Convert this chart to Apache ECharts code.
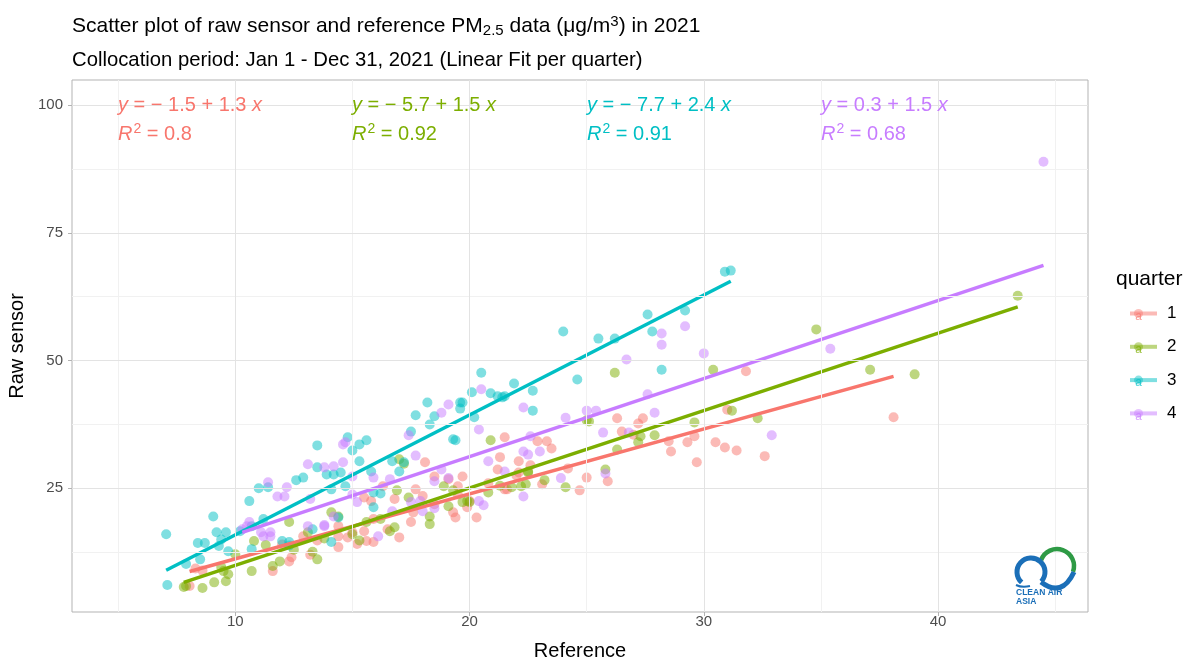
<!DOCTYPE html>
<html>
<head>
<meta charset="utf-8">
<script src="https://cdn.jsdelivr.net/npm/echarts@6/dist/echarts.min.js"></script>
<style>html,body{margin:0;padding:0;background:#fff;}#c{width:1190px;height:658px;}</style>
</head>
<body>
<div id="c"></div>
<script>
// ---- data (Reference, Raw sensor) per quarter ----
const q1 = [[8.05,5.9],[8.6,8.9],[8.3,9.3],[11.6,8.8],[12.3,10.7],[12.4,11.5],[12.9,15.6],[13.5,14.8],[14.4,13.5],[14.4,15.6],[14.4,17.6],[14.8,15.4],[15.0,16.4],[15.2,14.1],[15.5,16.6],[15.6,14.7],[15.9,14.5],[15.5,23.2],[15.8,22.5],[16.3,25.4],[15.9,19.0],[16.8,22.9],[17.0,15.4],[17.5,18.4],[17.6,20.3],[17.7,24.8],[18.1,30.1],[18.5,27.3],[18.5,21.9],[19.1,26.8],[19.3,20.3],[19.4,19.3],[19.7,27.3],[19.5,25.4],[19.5,23.8],[19.9,21.3],[20.0,22.5],[20.3,19.3],[21.3,31.1],[21.5,35.0],[21.2,28.7],[21.6,24.8],[22.1,30.3],[22.1,28.1],[22.0,27.5],[22.9,34.2],[23.3,34.2],[23.5,32.8],[24.2,28.9],[25.0,27.1],[24.7,24.6],[25.9,26.4],[26.3,38.7],[26.5,36.1],[27.2,37.7],[27.4,38.7],[27.0,35.5],[28.5,34.2],[28.6,32.2],[29.3,34.0],[29.6,35.2],[29.7,30.1],[30.5,34.0],[30.9,33.0],[31.4,32.4],[31.8,47.9],[31.0,40.4],[23.1,25.8],[21.5,24.8],[32.6,31.3],[38.1,38.9],[12.0,14.0],[13.2,12.0],[16.5,17.0],[18.0,23.5],[20.8,26.0],[22.6,29.5]];
const q2 = [[7.8,5.7],[7.9,5.9],[8.6,5.5],[9.1,6.6],[9.6,6.8],[9.5,8.8],[9.4,9.6],[9.7,8.2],[10.0,12.1],[10.7,8.8],[10.8,14.7],[11.3,13.9],[11.6,9.8],[11.9,10.7],[12.3,18.4],[13.1,16.4],[13.3,12.6],[13.5,11.1],[14.1,20.3],[14.4,19.5],[15.0,16.0],[15.6,18.4],[16.2,19.0],[16.6,16.6],[16.8,17.4],[16.9,24.6],[17.0,30.7],[17.4,23.2],[18.3,19.5],[18.3,18.0],[18.9,25.4],[19.1,21.5],[19.7,22.3],[19.9,22.5],[20.0,22.3],[20.9,34.4],[20.8,24.2],[21.8,25.2],[22.2,25.4],[22.5,28.3],[22.4,25.8],[22.5,28.1],[23.2,26.6],[24.1,25.2],[25.0,38.3],[25.1,38.1],[25.8,28.7],[26.3,32.6],[26.2,47.6],[27.2,34.0],[27.3,35.2],[27.9,35.4],[29.6,37.9],[30.4,48.2],[31.2,40.2],[32.3,38.7],[34.8,56.1],[37.1,48.2],[39.0,47.3],[43.4,62.7],[15.3,14.8],[17.2,29.8],[13.8,15.2],[12.5,13.0],[19.3,24.6],[21.3,25.5]];
const q3 = [[7.05,16.0],[7.1,6.1],[7.9,10.2],[8.4,14.3],[8.7,14.3],[9.06,19.5],[9.2,16.4],[9.6,16.4],[9.4,15.0],[9.3,13.7],[9.7,12.7],[8.5,11.1],[10.2,16.6],[10.6,22.5],[10.7,13.1],[12.0,14.7],[12.3,14.5],[13.3,17.0],[14.1,14.5],[14.4,19.3],[10.7,17.6],[11.0,25.0],[11.4,25.2],[12.6,26.6],[12.9,27.1],[13.5,29.1],[13.5,33.4],[13.9,27.7],[14.1,24.8],[14.8,35.0],[15.3,33.6],[15.6,34.4],[15.0,32.4],[15.3,30.3],[14.2,27.7],[14.5,28.1],[14.7,25.4],[15.8,28.3],[15.9,24.2],[15.9,21.3],[16.7,30.3],[17.0,28.3],[17.2,30.1],[17.5,36.1],[17.7,39.3],[18.2,41.8],[18.3,37.5],[18.5,39.1],[19.3,34.6],[19.4,34.4],[19.6,41.8],[19.7,41.8],[19.6,40.6],[20.1,43.8],[20.2,38.9],[20.9,43.6],[21.2,43.0],[21.5,43.0],[21.9,45.5],[22.7,44.1],[20.5,47.6],[21.4,42.8],[22.7,40.2],[24.0,55.7],[24.6,46.3],[25.5,54.3],[26.2,54.3],[27.6,59.0],[27.8,55.7],[28.2,48.2],[29.2,59.8],[30.9,67.4],[31.15,67.6],[12.3,13.8],[11.2,19.0],[16.2,24.0]];
const q4 = [[10.3,17.0],[10.5,17.6],[10.6,18.4],[11.1,16.4],[11.2,15.6],[11.5,16.4],[11.5,15.6],[11.4,26.2],[11.8,23.4],[12.1,23.4],[12.2,25.2],[13.1,29.7],[13.8,29.1],[14.2,29.3],[13.2,22.9],[13.8,17.8],[13.1,17.6],[13.8,17.6],[14.6,33.6],[14.7,34.0],[14.6,30.1],[15.0,27.3],[15.9,27.1],[16.6,26.8],[15.2,22.3],[15.0,23.8],[14.2,19.5],[16.1,15.6],[16.7,20.5],[17.4,35.4],[17.7,31.4],[17.9,22.5],[17.5,22.3],[18.0,20.5],[18.5,21.1],[18.8,39.8],[19.1,41.4],[18.8,28.7],[19.1,27.0],[18.5,26.4],[20.4,36.5],[20.5,44.4],[20.8,30.3],[21.5,28.3],[20.4,22.5],[20.6,21.7],[22.3,40.8],[22.3,32.2],[22.5,31.6],[22.6,35.2],[23.0,32.2],[23.9,27.0],[22.3,23.4],[24.1,38.8],[25.0,40.2],[25.4,40.2],[25.7,35.9],[25.8,27.9],[26.8,35.9],[26.7,50.2],[27.6,43.4],[27.9,39.8],[28.2,55.3],[28.2,53.1],[29.2,56.7],[30.0,51.4],[32.9,35.4],[35.4,52.3],[44.5,88.9]];

const quarters = ['1','2','3','4'];
// fitted lines as drawn in the picture
const fitIntercepts = [-1.49, -5.21, -7.57, 0.63];
const fitSlopes = [1.270, 1.514, 2.346, 1.528];
// equation labels as printed
const eqIntercepts = ['− 1.5', '− 5.7', '− 7.7', '0.3'];
const eqSlopes = ['1.3', '1.5', '2.4', '1.5'];
const r2 = ['0.8', '0.92', '0.91', '0.68'];
const annX = [5, 15, 25, 35];
const annY = [100, 94.4];
const xTicks = [10, 20, 30, 40];
const xMinor = [5, 15, 25, 35, 45];
const yTicks = [25, 50, 75, 100];
const yMinor = [12.5, 37.5, 62.5, 87.5];

const colors = ['#F8766D', '#7CAE00', '#00BFC4', '#C77CFF'];
const groups = [q1, q2, q3, q4];
const FONT = '"Liberation Sans", Arial, sans-serif';

const chart = echarts.init(document.getElementById('c'), null, {renderer: 'canvas'});

const series = [];
const gridMarks = [];
xMinor.forEach(v => gridMarks.push({xAxis: v, lineStyle: {color: '#f1f1f1', width: 1, type: 'solid'}}));
yMinor.forEach(v => gridMarks.push({yAxis: v, lineStyle: {color: '#f1f1f1', width: 1, type: 'solid'}}));
xTicks.forEach(v => gridMarks.push({xAxis: v, lineStyle: {color: '#e3e3e3', width: 1, type: 'solid'}}));
yTicks.forEach(v => gridMarks.push({yAxis: v, lineStyle: {color: '#e3e3e3', width: 1, type: 'solid'}}));
series.push({
  type: 'scatter', name: 'gridlines', data: [], z: 0, silent: true,
  markLine: {silent: true, symbol: 'none', label: {show: false}, animation: false, data: gridMarks}
});

groups.forEach((g, i) => {
  series.push({
    type: 'scatter', name: quarters[i], data: g, symbolSize: 10, z: 2,
    itemStyle: {color: colors[i], opacity: 0.5},
    emphasis: {disabled: true}
  });
});
groups.forEach((g, i) => {
  const xs = g.map(p => p[0]);
  const x0 = Math.min(...xs), x1 = Math.max(...xs);
  series.push({
    type: 'line', name: quarters[i], z: 3,
    data: [[x0, fitIntercepts[i] + fitSlopes[i] * x0], [x1, fitIntercepts[i] + fitSlopes[i] * x1]],
    showSymbol: false, symbol: 'none',
    lineStyle: {color: colors[i], width: 3.5},
    itemStyle: {color: colors[i]},
    emphasis: {disabled: true}
  });
});

const baseGraphics = [
  ...colors.map((c, i) => ({
    type: 'circle', silent: true, z: 99, shape: {cx: 1138.5, cy: 313.5 + i * 33.3, r: 4.5},
    style: {fill: c, opacity: 0.45}
  })),
  ...colors.map((c, i) => ({
    type: 'text', silent: true, z: 100, x: 1138.5, y: 316.5 + i * 33.3,
    style: {text: 'a', fill: c, opacity: 0.7, fontSize: 12, fontFamily: FONT, align: 'center', verticalAlign: 'middle'}
  })),
  {type: 'arc', silent: true, z: 100, shape: {cx: 1057, cy: 566, r: 17, startAngle: Math.PI + 0.35, endAngle: Math.PI * 2 + 0.35, clockwise: true},
    style: {stroke: '#2e9a45', lineWidth: 4.5, fill: 'none'}},
  {type: 'arc', silent: true, z: 101, shape: {cx: 1031, cy: 572, r: 14, startAngle: 2.3, endAngle: Math.PI * 2 + 0.75, clockwise: true},
    style: {stroke: '#1b6fb8', lineWidth: 5, fill: 'none'}},
  {type: 'bezierCurve', silent: true, z: 101, shape: {x1: 1041, y1: 582, x2: 1074, y2: 572, cpx1: 1062, cpy1: 598},
    style: {stroke: '#1b6fb8', lineWidth: 5, fill: 'none'}},
  {type: 'bezierCurve', silent: true, z: 101, shape: {x1: 1016, y1: 585, x2: 1030, y2: 586, cpx1: 1022, cpy1: 588},
    style: {stroke: '#1b6fb8', lineWidth: 2, fill: 'none'}},
  {type: 'text', silent: true, z: 101, left: 1016, top: 588,
    style: {text: 'CLEAN AIR', fill: '#1b6fb8', fontSize: 8.5, fontWeight: 'bold', fontFamily: FONT}},
  {type: 'text', silent: true, z: 101, left: 1016, top: 597,
    style: {text: 'ASIA', fill: '#1b6fb8', fontSize: 8.5, fontWeight: 'bold', fontFamily: FONT}}
];

const option = {
  animation: false,
  backgroundColor: '#ffffff',
  textStyle: {fontFamily: FONT},
  title: [
    {
      text: 'Scatter plot of raw sensor and reference PM{sub|2.5} data (μg/m{sup|3}) in 2021',
      left: 67, top: 9,
      textStyle: {
        fontSize: 21, fontWeight: 'normal', color: '#000', fontFamily: FONT,
        rich: {
          sub: {fontSize: 15, color: '#000', fontFamily: FONT, verticalAlign: 'bottom', padding: [9, 0, 0, 0]},
          sup: {fontSize: 15, color: '#000', fontFamily: FONT, verticalAlign: 'top', padding: [0, 0, 9, 0]}
        }
      }
    },
    {
      text: 'Collocation period: Jan 1 - Dec 31, 2021 (Linear Fit per quarter)',
      left: 67, top: 45,
      textStyle: {fontSize: 20.3, fontWeight: 'normal', color: '#000', fontFamily: FONT}
    },
    {
      text: 'quarter', left: 1111, top: 264,
      textStyle: {fontSize: 21, fontWeight: 'normal', color: '#000', fontFamily: FONT}
    }
  ],
  legend: {
    orient: 'vertical', left: 1125, top: 298.5,
    itemWidth: 27, itemHeight: 4, itemGap: 13.3,
    icon: 'rect',
    data: quarters.map((q, i) => ({name: q, itemStyle: {color: colors[i]}})),
    textStyle: {fontSize: 17, color: '#000', fontFamily: FONT, lineHeight: 20, padding: [0, 0, 0, 5]},
    selectedMode: false
  },
  grid: {left: 72, right: 102, top: 80, bottom: 46, show: true, borderColor: '#b3b3b3', borderWidth: 1, backgroundColor: 'transparent', containLabel: false, outerBoundsMode: 'none'},
  xAxis: {
    type: 'value', min: 3.03, max: 46.4,
    name: 'Reference', nameLocation: 'middle', nameGap: 29,
    nameTextStyle: {fontSize: 20, color: '#000', fontFamily: FONT},
    axisLine: {show: false},
    axisTick: {show: true, length: 4, lineStyle: {color: '#b3b3b3'}, customValues: xTicks},
    axisLabel: {color: '#4d4d4d', fontSize: 15, margin: 2, customValues: xTicks, fontFamily: FONT},
    splitLine: {show: false}
  },
  yAxis: {
    type: 'value', min: 0.8, max: 104.9,
    name: 'Raw sensor', nameLocation: 'middle', nameGap: 44,
    nameTextStyle: {fontSize: 20, color: '#000', fontFamily: FONT},
    axisLine: {show: false},
    axisTick: {show: true, length: 4, lineStyle: {color: '#b3b3b3'}, customValues: yTicks},
    axisLabel: {color: '#4d4d4d', fontSize: 15, margin: 9, customValues: yTicks, fontFamily: FONT},
    splitLine: {show: false}
  },
  graphic: baseGraphics,
  series: series
};
chart.setOption(option);

// equation annotations placed through the chart's own scales
const annGraphics = [];
groups.forEach((g, i) => {
  const rich = {
    i: {fontStyle: 'italic', fontSize: 20, fill: colors[i], fontFamily: FONT},
    n: {fontSize: 20, fill: colors[i], fontFamily: FONT},
    sup: {fontSize: 14, fill: colors[i], fontFamily: FONT, verticalAlign: 'top', padding: [0, 0, 10, 1]}
  };
  const p1 = chart.convertToPixel({gridIndex: 0}, [annX[i], annY[0]]);
  const p2 = chart.convertToPixel({gridIndex: 0}, [annX[i], annY[1]]);
  annGraphics.push({
    type: 'text', silent: true, z: 50, x: Math.round(p1[0]), y: Math.round(p1[1]),
    style: {text: '{i|y}{n| = ' + eqIntercepts[i] + ' + ' + eqSlopes[i] + ' }{i|x}', rich: rich, align: 'left', verticalAlign: 'middle', fill: colors[i], fontSize: 20, fontFamily: FONT}
  });
  annGraphics.push({
    type: 'text', silent: true, z: 50, x: Math.round(p2[0]), y: Math.round(p2[1]),
    style: {text: '{i|R}{sup|2}{n| = ' + r2[i] + '}', rich: rich, align: 'left', verticalAlign: 'middle', fill: colors[i], fontSize: 20, fontFamily: FONT}
  });
});
chart.setOption({graphic: baseGraphics.concat(annGraphics)});
</script>
</body>
</html>
